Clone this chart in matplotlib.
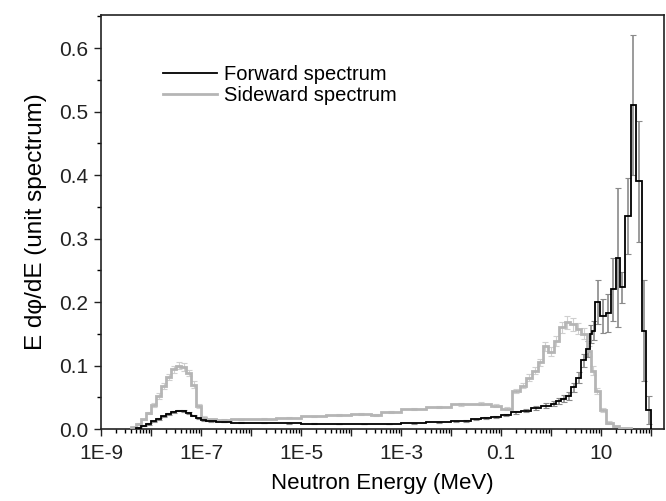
import numpy as np
import matplotlib
matplotlib.use('Agg')
import matplotlib.pyplot as plt
from matplotlib.ticker import LogLocator, NullFormatter, MultipleLocator, FormatStrFormatter
from matplotlib.lines import Line2D

plt.rcParams['font.family'] = ['Liberation Sans', 'DejaVu Sans']

# forward spectrum: bin edges (log10 of MeV), E dphi/dE, errors
fwd_log_edges = [-8.3, -8.2, -8.1, -8.0, -7.9, -7.8, -7.7, -7.6, -7.5, -7.4, -7.3, -7.2, -7.1, -7.0, -6.9,
                 -6.7, -6.4, -6.0, -5.5, -5.0, -4.5, -4.0, -3.5, -3.0, -2.5, -2.0,
                 -1.8, -1.6, -1.4, -1.2, -1.0, -0.8, -0.6, -0.4, -0.2, 0.0,
                 0.1, 0.2, 0.3, 0.4, 0.5, 0.6, 0.7, 0.77, 0.82, 0.88, 0.98, 1.1, 1.19, 1.3,
                 1.38, 1.47, 1.59, 1.7, 1.81, 1.9, 2.0]
fwd_flux = [0.002, 0.005, 0.008, 0.012, 0.016, 0.020, 0.024, 0.027, 0.029, 0.028, 0.025, 0.021, 0.017, 0.014,
            0.012, 0.011, 0.010, 0.0095, 0.009, 0.0085, 0.008, 0.008, 0.008, 0.009, 0.011,
            0.012, 0.013, 0.015, 0.017, 0.019, 0.022, 0.026, 0.029, 0.033, 0.037,
            0.040, 0.044, 0.048, 0.052, 0.066, 0.081, 0.108, 0.126, 0.150, 0.155, 0.200, 0.178, 0.182,
            0.220, 0.270, 0.223, 0.336, 0.510, 0.390, 0.155, 0.030]
fwd_err = [0.0005, 0.0008, 0.001, 0.001, 0.0012, 0.0012, 0.0013, 0.0013, 0.0014, 0.0014, 0.0013, 0.0012, 0.001, 0.001,
           0.0008, 0.0006, 0.0005, 0.0005, 0.0005, 0.0005, 0.0005, 0.0005, 0.0005, 0.0006, 0.0008,
           0.001, 0.0012, 0.0014, 0.0016, 0.0018, 0.002, 0.0025, 0.003, 0.0035, 0.004,
           0.004, 0.005, 0.005, 0.006, 0.007, 0.008, 0.010, 0.012, 0.014, 0.015, 0.034, 0.027, 0.030,
           0.050, 0.110, 0.025, 0.060, 0.110, 0.095, 0.080, 0.022]

# sideward spectrum
side_log_edges = [-8.4, -8.3, -8.2, -8.1, -8.0, -7.9, -7.8, -7.7, -7.6, -7.5, -7.4, -7.3, -7.2, -7.1, -7.0, -6.9,
                  -6.7, -6.4, -6.0, -5.5, -5.0, -4.5, -4.0, -3.6, -3.4, -3.0, -2.5, -2.0, -1.6, -1.2, -1.0, -0.78,
                  -0.63, -0.5, -0.38, -0.27, -0.17, -0.07, 0.05, 0.15, 0.27, 0.37, 0.49, 0.6, 0.71, 0.8,
                  0.87, 0.98, 1.1, 1.23, 1.35, 1.6]
side_flux = [0.003, 0.008, 0.015, 0.025, 0.038, 0.052, 0.068, 0.082, 0.094, 0.100, 0.098, 0.088, 0.070, 0.036, 0.018,
             0.015, 0.014, 0.015, 0.016, 0.018, 0.020, 0.022, 0.024, 0.022, 0.027, 0.031, 0.035, 0.039, 0.040,
             0.037, 0.032,
             0.060, 0.068, 0.081, 0.092, 0.105, 0.130, 0.122, 0.138, 0.160, 0.168, 0.165, 0.158, 0.150, 0.123,
             0.092, 0.060, 0.030, 0.010, 0.004, 0.001]
side_err = [0.0005, 0.001, 0.0015, 0.002, 0.003, 0.004, 0.005, 0.005, 0.006, 0.006, 0.006, 0.005, 0.005, 0.003, 0.002,
            0.001, 0.001, 0.001, 0.001, 0.001, 0.001, 0.0012, 0.0012, 0.0012, 0.0015, 0.0015, 0.0018, 0.002, 0.002,
            0.002, 0.002,
            0.003, 0.004, 0.005, 0.005, 0.006, 0.007, 0.007, 0.008, 0.009, 0.010, 0.010, 0.009, 0.009, 0.008,
            0.007, 0.005, 0.003, 0.002, 0.001, 0.0005]

xtick_labels = ['1E-9', '', '1E-7', '', '1E-5', '', '1E-3', '', '0.1', '', '10', '']

fig = plt.figure(figsize=(6.66, 5.01), dpi=100)
ax = fig.add_axes([0.1517, 0.1437, 0.8453, 0.8263])


def draw(log_edges, flux, err, color, lw, ecolor, elw):
    e = np.array(log_edges)
    edges = 10 ** e
    centers = 10 ** ((e[:-1] + e[1:]) / 2)
    ax.errorbar(centers, flux, yerr=err, fmt='none', ecolor=ecolor, elinewidth=elw,
                capsize=2.5, capthick=0.8, zorder=2)
    ax.stairs(flux, edges, baseline=0, color=color, lw=lw, zorder=3)


draw(side_log_edges, side_flux, side_err, '#b5b5b5', 2.0, '#cfcfcf', 0.8)
draw(fwd_log_edges, fwd_flux, fwd_err, 'black', 1.3, '#8a8a8a', 1.2)

ax.set_xscale('log')
ax.set_xlim(1e-9, 180)
ax.set_ylim(0, 0.652)

ax.set_xticks(10.0 ** np.arange(-9, 3))
ax.set_xticklabels(xtick_labels)
ax.xaxis.set_minor_locator(LogLocator(base=10, subs=np.arange(2, 10), numticks=100))
ax.xaxis.set_minor_formatter(NullFormatter())
ax.yaxis.set_major_locator(MultipleLocator(0.1))
ax.yaxis.set_minor_locator(MultipleLocator(0.05))
ax.yaxis.set_major_formatter(FormatStrFormatter('%.1f'))

ax.tick_params(which='major', direction='out', length=5, width=1.0, labelsize=15, colors='#222222')
ax.tick_params(which='minor', direction='out', length=3, width=1.0)
ax.tick_params(axis='x', which='major', pad=6)
ax.tick_params(axis='y', which='major', pad=4)
for s in ax.spines.values():
    s.set_linewidth(1.2)
    s.set_color('#222222')

ax.set_xlabel('Neutron Energy (MeV)', fontsize=16, labelpad=7)
ax.set_ylabel('E d\u03c6/dE (unit spectrum)', fontsize=17.5, labelpad=9)

handles = [Line2D([], [], color='black', lw=1.3), Line2D([], [], color='#b5b5b5', lw=2.0)]
ax.legend(handles, ['Forward spectrum', 'Sideward spectrum'], loc='upper left',
          bbox_to_anchor=(0.11, 0.88), frameon=False, fontsize=14.5, handlelength=2.7,
          handletextpad=0.35, borderpad=0, borderaxespad=0, labelspacing=0.12)

fig.savefig('out.png', dpi=100)
